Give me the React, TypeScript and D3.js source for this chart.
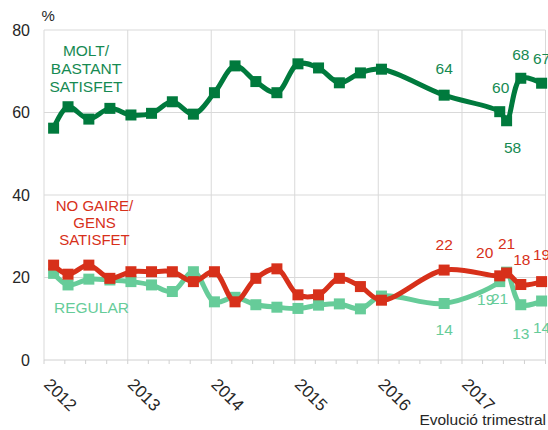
import React from "react";
import * as d3 from "d3";

const dates = [
  "2012-02-12", "2012-04-15", "2012-07-15", "2012-10-15",
  "2013-01-15", "2013-04-15", "2013-07-15", "2013-10-15",
  "2014-01-15", "2014-04-15", "2014-07-15", "2014-10-15",
  "2015-01-15", "2015-04-15", "2015-07-15", "2015-10-15",
  "2016-01-15", "2016-10-15",
  "2017-06-15", "2017-07-15", "2017-09-15", "2017-12-15",
];

const moltBastant = [
  56.2, 61.4, 58.4, 61.0, 59.4, 59.8, 62.6, 59.6, 64.8, 71.3, 67.5, 64.8,
  71.8, 70.8, 67.2, 69.6, 70.5, 64.2, 60.2, 58.0, 68.3, 67.1,
];

const noGaireGens = [
  23.0, 20.8, 23.0, 19.8, 21.4, 21.4, 21.4, 19.0, 21.4, 14.1, 19.8, 22.1,
  15.8, 15.8, 19.8, 17.8, 14.5, 21.8, 20.4, 21.1, 18.3, 19.0,
];

const regular = [
  21.0, 18.2, 19.6, 19.4, 19.0, 18.2, 16.6, 21.4, 14.1, 15.2, 13.4, 12.8,
  12.5, 13.3, 13.6, 12.4, 15.5, 13.7, 19.0, 21.3, 13.4, 14.3,
];

const labelledIdx = [17, 18, 19, 20, 21];
const yTicks = [0, 20, 40, 60, 80];
const years = [2012, 2013, 2014, 2015, 2016, 2017, 2018];
const yearLabels = ["2012", "2013", "2014", "2015", "2016", "2017"];

const seriesNames = {
  molt: ["MOLT/", "BASTANT", "SATISFET"],
  noGaire: ["NO GAIRE/", "GENS", "SATISFET"],
  regular: ["REGULAR"],
};

const FONT = "'Liberation Sans', Arial, sans-serif";

export default function App() {
  const W = 548;
  const H = 430;
  const left = 44;
  const right = 545.5;
  const top = 30;
  const bottom = 360;

  const parse = d3.timeParse("%Y-%m-%d");
  const ds = dates.map((d) => parse(d) as Date);

  const x = d3
    .scaleTime()
    .domain([new Date(2012, 0, 1), new Date(2018, 0, 1)])
    .range([left, right]);
  const y = d3.scaleLinear().domain([0, 80]).range([bottom, top]);

  const line = d3
    .line<number>()
    .x((_, i) => x(ds[i]))
    .y((v) => y(v))
    .curve(d3.curveCatmullRom.alpha(0.5));

  const quarterTicks: Date[] = [];
  for (let yr = 2012; yr <= 2017; yr++) {
    for (let q = 0; q < 4; q++) quarterTicks.push(new Date(yr, q * 3, 1));
  }
  quarterTicks.push(new Date(2018, 0, 1));

  const cTeal = "#66cc99";
  const cRed = "#d7301a";
  const cGreen = "#007a3d";
  const cGreenText = "#168a52";

  const series = [
    {
      values: regular,
      color: cTeal,
      text: cTeal,
      offs: [
        [0, 32],
        [-14, 23],
        [-7, 32],
        [0, 34],
        [0, 32],
      ],
    },
    {
      values: noGaireGens,
      color: cRed,
      text: cRed,
      offs: [
        [0, -20],
        [-15, -18],
        [0, -24],
        [1, -20],
        [0, -22],
      ],
    },
    {
      values: moltBastant,
      color: cGreen,
      text: cGreenText,
      offs: [
        [0, -21],
        [1, -19],
        [6, 32],
        [0, -18],
        [0, -19],
      ],
    },
  ];

  const M = 11;

  return (
    <svg
      width={W}
      height={H}
      style={{ position: "absolute", left: 0, top: 0, background: "#fff" }}
      fontFamily={FONT}
    >
      {/* horizontal gridlines */}
      {yTicks
        .filter((t) => t > 0)
        .map((t) => (
          <line
            key={"h" + t}
            x1={left}
            x2={right}
            y1={y(t)}
            y2={y(t)}
            stroke="#d9d9d9"
            strokeWidth={1}
          />
        ))}
      {/* vertical gridlines */}
      {years.map((yr) => (
        <line
          key={"v" + yr}
          x1={x(new Date(yr, 0, 1))}
          x2={x(new Date(yr, 0, 1))}
          y1={top}
          y2={bottom}
          stroke="#d9d9d9"
          strokeWidth={1}
        />
      ))}
      {/* x axis */}
      <line x1={left} x2={right} y1={bottom} y2={bottom} stroke="#d0d0d0" strokeWidth={1} />
      {quarterTicks.map((d, i) => (
        <line
          key={"t" + i}
          x1={x(d)}
          x2={x(d)}
          y1={bottom}
          y2={bottom + 4}
          stroke="#d0d0d0"
          strokeWidth={1}
        />
      ))}
      {/* y tick labels */}
      {yTicks.map((t) => (
        <text
          key={"yl" + t}
          x={30}
          y={y(t)}
          dy="0.35em"
          textAnchor="end"
          fontSize={16}
          fill="#262626"
        >
          {t}
        </text>
      ))}
      <text x={41.5} y={20.5} fontSize={15} fill="#262626">
        %
      </text>
      {/* year labels */}
      {yearLabels.map((yl) => (
        <text
          key={"xl" + yl}
          transform={`translate(${x(new Date(+yl, 0, 1)) - 1},385.5) rotate(45)`}
          fontSize={17}
          fill="#262626"
        >
          {yl}
        </text>
      ))}
      <text x={546} y={425} textAnchor="end" fontSize={15.5} fill="#262626">
        Evolució trimestral
      </text>

      {/* series */}
      {series.map((s, si) => (
        <g key={"s" + si}>
          <path
            d={line(s.values) || ""}
            fill="none"
            stroke={s.color}
            strokeWidth={5}
            strokeLinejoin="round"
          />
          {s.values.map((v, i) => (
            <rect
              key={i}
              x={x(ds[i]) - M / 2}
              y={y(v) - M / 2}
              width={M}
              height={M}
              fill={s.color}
            />
          ))}
        </g>
      ))}
      {/* value labels */}
      {series.map((s, si) =>
        labelledIdx.map((idx, k) => (
          <text
            key={"vl" + si + "-" + idx}
            x={x(ds[idx]) + s.offs[k][0]}
            y={y(s.values[idx]) + s.offs[k][1]}
            textAnchor="middle"
            fontSize={15.5}
            fill={s.text}
          >
            {Math.round(s.values[idx])}
          </text>
        ))
      )}

      {/* series name labels */}
      {seriesNames.molt.map((t, i) => (
        <text key={"m" + i} x={86} y={56 + i * 18} textAnchor="middle" fontSize={15.5} fill={cGreenText}>
          {t}
        </text>
      ))}
      {seriesNames.noGaire.map((t, i) => (
        <text key={"n" + i} x={94.5} y={210.5 + i * 17.3} textAnchor="middle" fontSize={15} fill={cRed}>
          {t}
        </text>
      ))}
      {seriesNames.regular.map((t, i) => (
        <text key={"r" + i} x={91.5} y={313} textAnchor="middle" fontSize={15.5} fill={cTeal}>
          {t}
        </text>
      ))}
    </svg>
  );
}
